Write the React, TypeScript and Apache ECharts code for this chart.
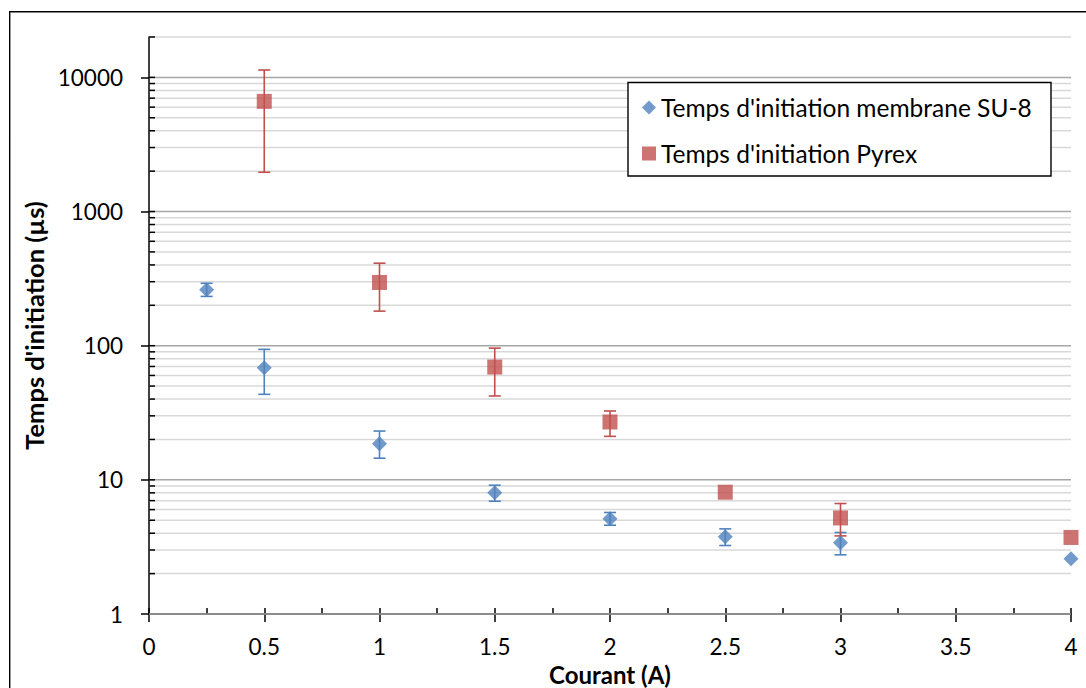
import React, { useEffect, useRef } from "react";
import * as echarts from "echarts";

const seriesNames = ["Temps d'initiation membrane SU-8", "Temps d'initiation Pyrex"];

const currentSU8 = [0.25, 0.5, 1, 1.5, 2, 2.5, 3, 4];
const timeSU8 = [261, 68.6, 18.6, 8.0, 5.12, 3.76, 3.39, 2.58];
const lowSU8 = [233, 43.4, 14.5, 6.93, 4.59, 3.24, 2.76, null];
const highSU8 = [292, 93.9, 23.1, 9.12, 5.71, 4.31, 4.05, null];

const currentPyrex = [0.5, 1, 1.5, 2, 2.5, 3, 4];
const timePyrex = [6625, 296, 69.3, 27.0, 8.09, 5.2, 3.72];
const lowPyrex = [1962, 181, 42.2, 21.1, null, 3.82, null];
const highPyrex = [11350, 412, 95.9, 32.6, null, 6.66, null];

const majorValues = [1, 10, 100, 1000, 10000];
const minorMultipliers = [2, 3, 4, 5, 6, 7, 8, 9];
const yMin = 1;
const yMax = 20000;
const xMin = 0;
const xMax = 4;

const minorValues: number[] = [];
majorValues.forEach((d) => {
  minorMultipliers.forEach((m) => {
    const v = d * m;
    if (v <= yMax) minorValues.push(v);
  });
});

const FONT = "Lato";
const BLUE = "#4F81BD";
const RED = "#C0504D";

function errorBarSeries(xs: number[], lows: (number | null)[], highs: (number | null)[], color: string) {
  const data: number[][] = [];
  xs.forEach((x, i) => {
    if (lows[i] != null && highs[i] != null) data.push([x, lows[i] as number, highs[i] as number]);
  });
  return {
    type: "custom",
    z: 3,
    silent: true,
    encode: { x: 0, y: [1, 2] },
    data,
    renderItem: (params: any, api: any) => {
      const x = api.value(0);
      const lo = api.coord([x, api.value(1)]);
      const hi = api.coord([x, api.value(2)]);
      const cap = 6;
      const st = { stroke: color, lineWidth: 1.6 };
      return {
        type: "group",
        children: [
          { type: "line", shape: { x1: lo[0], y1: lo[1], x2: hi[0], y2: hi[1] }, style: st },
          { type: "line", shape: { x1: lo[0] - cap, y1: lo[1], x2: lo[0] + cap, y2: lo[1] }, style: st },
          { type: "line", shape: { x1: hi[0] - cap, y1: hi[1], x2: hi[0] + cap, y2: hi[1] }, style: st },
        ],
      };
    },
  };
}

export default function App() {
  const ref = useRef<HTMLDivElement>(null);
  useEffect(() => {
    document.body.style.margin = "0";
    const chart = echarts.init(ref.current!, null, { renderer: "svg" });
    const gridData = [
      ...minorValues.map((v) => [xMin, v, 1]),
      ...majorValues.map((v) => [xMin, v, 0]),
    ];
    chart.setOption({
      animation: false,
      backgroundColor: "#fff",
      textStyle: { fontFamily: FONT },
      grid: {
        left: 149,
        top: 37,
        width: 922,
        height: 577,
        containLabel: false,
        outerBoundsMode: "none",
      },
      xAxis: [
        {
          type: "value",
          min: xMin,
          max: xMax,
          interval: 0.5,
          name: "Courant (A)",
          nameLocation: "middle",
          nameGap: 44,
          nameTextStyle: {
            fontFamily: FONT,
            fontSize: 24,
            lineHeight: 24,
            fontWeight: "bold",
            color: "#000",
          },
          axisLine: { lineStyle: { color: "#000", width: 1.5 } },
          axisTick: { show: true, inside: false, length: 8, lineStyle: { color: "#000", width: 1.5 } },
          axisLabel: { fontFamily: FONT, fontSize: 22.5, color: "#000", margin: 21 },
          splitLine: { show: false },
        },
        {
          type: "value",
          min: xMin,
          max: xMax,
          interval: 0.25,
          position: "bottom",
          axisLine: { show: false },
          axisTick: { show: true, inside: true, length: 6, lineStyle: { color: "#000", width: 1.5 } },
          axisLabel: { show: false },
          splitLine: { show: false },
        },
      ],
      yAxis: {
        type: "log",
        logBase: 10,
        min: yMin,
        max: yMax,
        name: "Temps d'initiation (µs)",
        nameLocation: "middle",
        nameGap: 92,
        nameTextStyle: { fontFamily: FONT, fontSize: 25.5, fontWeight: "bold", color: "#000" },
        axisLine: { show: true, lineStyle: { color: "#000", width: 1.5 } },
        axisTick: {
          show: true,
          inside: false,
          length: 8,
          customValues: majorValues,
          lineStyle: { color: "#000", width: 1.5 },
        },
        axisLabel: {
          fontFamily: FONT,
          fontSize: 22.5,
          color: "#000",
          margin: 26,
          customValues: majorValues,
          formatter: (v: number) => {
            const r = Math.round(v);
            return majorValues.indexOf(r) >= 0 ? String(r) : "";
          },
        },
        splitLine: { show: false },
      },
      legend: {
        orient: "vertical",
        left: 637,
        top: 90,
        itemWidth: 14,
        itemHeight: 14,
        itemGap: 21,
        z: 6,
        textStyle: { fontFamily: FONT, fontSize: 24.5, color: "#000" },
        data: [
          { name: seriesNames[0], icon: "diamond" },
          { name: seriesNames[1], icon: "rect" },
        ],
      },
      graphic: [
        {
          type: "rect",
          z: 5,
          shape: { x: 628, y: 82.5, width: 423, height: 93.5 },
          style: { fill: "#fff", stroke: "#000", lineWidth: 1.4 },
        },
        {
          type: "rect",
          z: 5,
          shape: { x: 9.7, y: 11.7, width: 1300, height: 900 },
          style: { fill: "none", stroke: "#000", lineWidth: 1.4 },
        },
      ],
      series: [
        {
          type: "custom",
          name: "grid",
          z: 1,
          silent: true,
          encode: { x: 0, y: 1 },
          data: gridData,
          renderItem: (params: any, api: any) => {
            const v = api.value(1);
            const minor = api.value(2) === 1;
            const p0 = api.coord([xMin, v]);
            const p1 = api.coord([xMax, v]);
            const children: any[] = [
              {
                type: "line",
                shape: { x1: p0[0], y1: p0[1], x2: p1[0], y2: p1[1] },
                style: { stroke: minor ? "#d9d9d9" : "#a6a6a6", lineWidth: 1.5 },
              },
            ];
            if (v > yMin) {
              children.push({
                type: "line",
                shape: { x1: p0[0], y1: p0[1], x2: p0[0] + 6, y2: p0[1] },
                style: { stroke: "#000", lineWidth: 1.5 },
              });
            }
            return { type: "group", children };
          },
        },
        errorBarSeries(currentSU8, lowSU8, highSU8, BLUE),
        errorBarSeries(currentPyrex, lowPyrex, highPyrex, RED),
        {
          type: "scatter",
          name: seriesNames[0],
          z: 4,
          symbol: "diamond",
          symbolSize: 15,
          itemStyle: { color: BLUE },
          data: currentSU8.map((x, i) => [x, timeSU8[i]]),
        },
        {
          type: "scatter",
          name: seriesNames[1],
          z: 4,
          symbol: "rect",
          symbolSize: 15,
          itemStyle: { color: RED },
          data: currentPyrex.map((x, i) => [x, timePyrex[i]]),
        },
      ],
    });
    return () => chart.dispose();
  }, []);
  return <div ref={ref} style={{ width: 1086, height: 688 }} />;
}
